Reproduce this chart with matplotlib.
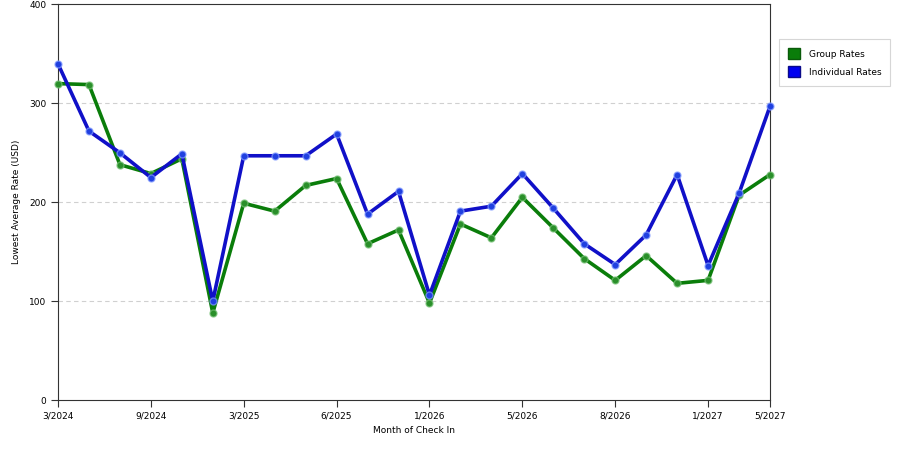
import matplotlib
matplotlib.use("Agg")
import matplotlib.pyplot as plt
from matplotlib.patches import Patch

months_idx = list(range(24))
tick_positions = [0, 3, 6, 9, 12, 15, 18, 21, 23]
tick_labels = ["3/2024", "9/2024", "3/2025", "6/2025", "1/2026", "5/2026", "8/2026", "1/2027", "5/2027"]

group_rates = [320, 319, 238, 229, 244, 88, 199, 191, 217, 224, 158, 172, 98,
               178, 164, 205, 174, 143, 121, 146, 118, 121, 207, 228]
individual_rates = [340, 272, 250, 225, 249, 100, 247, 247, 247, 269, 188, 211, 106,
                    191, 196, 229, 194, 158, 137, 167, 228, 136, 209, 297]

green = "#0a7d0a"
blue = "#1010c8"

plt.rcParams['font.family'] = ['DejaVu Sans']
fig = plt.figure(figsize=(9, 4.5), dpi=100)
ax = fig.add_axes([58/900, 1 - 400/450, (770-58)/900, (400-4.5)/450])

ax.plot(months_idx, group_rates, color=green, lw=2.6, marker='o', ms=5,
        mfc="#2a8f2a", mec=(0.45, 0.75, 0.45, 0.7), mew=1.0, zorder=3, clip_on=False)
ax.plot(months_idx, individual_rates, color=blue, lw=2.6, marker='o', ms=5,
        mfc="#2040e0", mec=(0.5, 0.6, 1.0, 0.7), mew=1.0, zorder=4, clip_on=False)

ax.set_xlim(0, 23)
ax.set_ylim(0, 400)
ax.set_yticks([0, 100, 200, 300, 400])
ax.set_xticks(tick_positions)
ax.set_xticklabels(tick_labels)
for y in [100, 200, 300]:
    ax.axhline(y, color="#d0d0d0", lw=0.8, ls=(0, (4, 3)), zorder=1)

ax.tick_params(axis='both', labelsize=6.5, length=5, width=0.8, color="#333333", direction='out')
for s in ax.spines.values():
    s.set_color("#333333")
    s.set_linewidth(0.8)

ax.set_xlabel("Month of Check In", fontsize=6.5, labelpad=4)
ax.set_ylabel("Lowest Average Rate (USD)", fontsize=6.5, labelpad=6)

handles = [Patch(facecolor=green, edgecolor="#0a5a0a", label="Group Rates"),
           Patch(facecolor="#0000f0", edgecolor="#0a0a8a", label="Individual Rates")]
leg = fig.legend(handles=handles, loc='upper left', bbox_to_anchor=(779/900, 1 - 39/450),
                 fontsize=6.5, frameon=True, fancybox=False, edgecolor="#cccccc",
                 handlelength=1.3, handleheight=1.5, borderpad=1.0, labelspacing=0.8,
                 handletextpad=1.0, borderaxespad=0)
leg.get_frame().set_linewidth(0.8)

fig.savefig("out.png", dpi=100)
